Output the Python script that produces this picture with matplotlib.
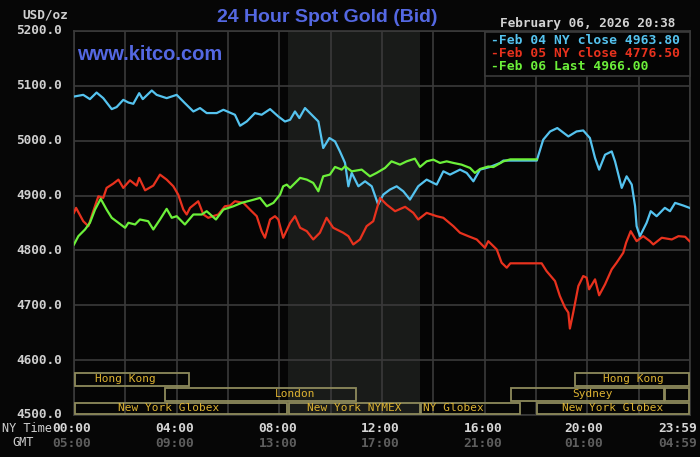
import matplotlib
matplotlib.use("Agg")
import matplotlib.pyplot as plt
from matplotlib.patches import Rectangle

# ---------------- data ----------------
blue_h = [0.0, 0.36, 0.62, 0.88, 1.14, 1.47, 1.66, 1.92, 2.12, 2.31, 2.54, 2.68, 3.03, 3.22, 3.61, 4.00,
          4.32, 4.65, 4.91, 5.17, 5.56, 5.82, 6.27, 6.47, 6.73, 7.05, 7.31, 7.64, 7.96, 8.22, 8.42, 8.61,
          8.78, 9.00, 9.26, 9.52, 9.71, 9.95, 10.17, 10.36, 10.56, 10.69, 10.82, 11.08, 11.34, 11.60,
          11.85, 12.05, 12.31, 12.57, 12.83, 13.09, 13.41, 13.74, 14.13, 14.39, 14.65, 15.04, 15.30,
          15.56, 15.82, 16.21, 16.60, 16.73, 17.00, 18.03, 18.28, 18.55, 18.83, 19.26, 19.58, 19.84,
          20.10, 20.30, 20.46, 20.69, 20.95, 21.08, 21.34, 21.53, 21.73, 21.86, 21.92, 22.05, 22.31,
          22.47, 22.70, 23.02, 23.22, 23.42, 23.74, 23.98]
blue_v = [5080.5, 5083.6, 5075.8, 5087.8, 5077.6, 5057.6, 5061.3, 5074.5, 5069.6, 5067.3, 5086.7, 5075.8,
          5091.5, 5083.6, 5077.6, 5083.6, 5068.5, 5053.3, 5059.5, 5050.4, 5050.4, 5056.4, 5047.3, 5027.3,
          5035.1, 5050.4, 5047.3, 5057.6, 5044.2, 5035.0, 5038.2, 5053.3, 5041.3, 5059.5, 5047.3, 5035.1,
          4986.7, 5004.9, 4998.7, 4980.5, 4959.5, 4916.9, 4941.3, 4916.9, 4926.0, 4916.9, 4883.6, 4901.8,
          4910.9, 4916.9, 4907.8, 4892.7, 4916.9, 4929.1, 4920.0, 4944.2, 4938.2, 4947.3, 4941.3, 4926.0,
          4947.3, 4952.2, 4959.5, 4963.8, 4963.8, 4963.8, 5001.8, 5016.9, 5023.1, 5007.8, 5016.9, 5018.7,
          5004.9, 4968.5, 4947.3, 4974.5, 4980.5, 4962.4, 4914.0, 4935.1, 4920.0, 4880.5, 4844.2, 4826.0,
          4850.4, 4871.5, 4862.4, 4877.6, 4871.5, 4886.7, 4881.8, 4877.6]

red_h = [0.0, 0.08, 0.36, 0.56, 0.75, 0.95, 1.14, 1.27, 1.53, 1.73, 1.92, 2.18, 2.44, 2.54, 2.77, 3.09,
         3.35, 3.61, 3.87, 4.06, 4.26, 4.39, 4.52, 4.84, 5.04, 5.23, 5.62, 5.88, 6.08, 6.27, 6.60, 6.92,
         7.12, 7.31, 7.44, 7.64, 7.83, 7.96, 8.15, 8.42, 8.61, 8.81, 9.07, 9.32, 9.58, 9.84, 10.10, 10.49,
         10.69, 10.88, 11.14, 11.40, 11.66, 11.92, 12.18, 12.51, 12.90, 13.22, 13.41, 13.74, 14.13, 14.39,
         14.78, 15.04, 15.36, 15.69, 16.01, 16.14, 16.47, 16.66, 16.86, 17.00, 18.03, 18.22, 18.41, 18.74,
         18.93, 19.13, 19.26, 19.32, 19.45, 19.65, 19.84, 19.97, 20.07, 20.30, 20.46, 20.69, 20.95, 21.14,
         21.40, 21.51, 21.69, 21.92, 22.18, 22.44, 22.57, 22.90, 23.29, 23.55, 23.81, 23.98]
red_v = [4868.5, 4877.6, 4853.3, 4844.2, 4871.5, 4898.7, 4895.8, 4914.0, 4921.8, 4929.1, 4914.0, 4927.8,
         4918.2, 4932.2, 4909.6, 4918.2, 4938.2, 4929.1, 4916.9, 4901.8, 4874.5, 4865.5, 4877.6, 4889.6,
         4865.5, 4859.5, 4865.5, 4880.5, 4881.8, 4889.6, 4886.7, 4871.5, 4862.4, 4835.1, 4823.1, 4856.4,
         4862.4, 4856.4, 4823.1, 4850.0, 4862.4, 4841.3, 4835.1, 4820.0, 4832.2, 4859.5, 4841.3, 4832.2,
         4826.0, 4810.9, 4820.0, 4844.2, 4853.3, 4895.8, 4883.6, 4871.5, 4879.5, 4868.5, 4856.4, 4868.5,
         4862.4, 4859.5, 4844.2, 4832.2, 4826.0, 4820.0, 4804.9, 4816.9, 4801.8, 4777.6, 4768.5, 4776.5,
         4776.5, 4776.5, 4762.4, 4744.2, 4716.9, 4695.8, 4686.7, 4657.6, 4686.7, 4735.1, 4753.3, 4750.4,
         4729.1, 4747.3, 4718.2, 4738.2, 4765.5, 4777.6, 4795.8, 4814.0, 4835.1, 4816.9, 4826.0, 4816.9,
         4810.9, 4823.1, 4820.0, 4826.0, 4824.9, 4816.9]

green_h = [0.0, 0.17, 0.43, 0.62, 0.82, 1.04, 1.27, 1.47, 1.73, 1.99, 2.12, 2.38, 2.57, 2.89, 3.09, 3.35,
           3.61, 3.81, 4.00, 4.32, 4.65, 4.98, 5.17, 5.53, 5.82, 6.21, 6.53, 6.92, 7.25, 7.51, 7.77, 8.03,
           8.15, 8.29, 8.42, 8.81, 9.07, 9.32, 9.52, 9.71, 9.97, 10.17, 10.43, 10.56, 10.82, 11.21, 11.53,
           11.79, 12.12, 12.37, 12.70, 12.96, 13.28, 13.48, 13.74, 14.00, 14.26, 14.52, 14.78, 15.10,
           15.43, 15.62, 15.82, 16.14, 16.34, 16.73, 17.00, 18.03]
green_v = [4810.9, 4826.0, 4838.2, 4850.4, 4874.5, 4894.0, 4874.5, 4859.5, 4850.4, 4841.3, 4850.4, 4847.3,
           4856.4, 4853.3, 4838.2, 4856.4, 4875.8, 4859.5, 4862.4, 4847.3, 4865.5, 4865.5, 4871.5, 4856.4,
           4874.5, 4880.5, 4886.7, 4891.5, 4895.8, 4880.5, 4886.7, 4901.8, 4916.9, 4920.0, 4914.0, 4932.2,
           4929.1, 4923.1, 4907.8, 4935.1, 4938.2, 4952.2, 4947.3, 4953.3, 4944.2, 4947.3, 4935.1, 4941.3,
           4950.4, 4962.4, 4956.4, 4962.4, 4967.3, 4952.2, 4962.4, 4965.5, 4959.5, 4962.4, 4959.5, 4956.4,
           4950.4, 4941.3, 4948.5, 4953.0, 4952.0, 4962.4, 4966.0, 4966.0]

y_ticks = [4500, 4600, 4700, 4800, 4900, 5000, 5100, 5200]
ny_labels = ["00:00", "04:00", "08:00", "12:00", "16:00", "20:00", "23:59"]
gmt_labels = ["05:00", "09:00", "13:00", "17:00", "21:00", "01:00", "04:59"]
label_hours = [-0.08, 3.93, 7.94, 11.93, 15.93, 19.86, 23.5]

legend_texts = ["Feb 04 NY close 4963.80", "Feb 05 NY close 4776.50", "Feb 06 Last 4966.00"]

# sessions: (row, start hour, end hour, label)
sessions = [
    (0, 0.0, 4.5, "Hong Kong"),
    (0, 19.5, 24.0, "Hong Kong"),
    (1, 3.5, 11.0, "London"),
    (1, 17.0, 23.0, "Sydney"),
    (1, 23.0, 24.0, ""),
    (2, 0.0, 8.33, "New York Globex"),
    (2, 8.33, 13.5, "New York NYMEX"),
    (2, 13.5, 17.4, "NY Globex"),
    (2, 18.0, 24.0, "New York Globex"),
]
session_text_x = {"Hong Kong": [2.0, 21.8], "London": [8.6], "Sydney": [20.2],
                  "New York Globex": [3.7, 21.0], "New York NYMEX": [10.9], "NY Globex": [14.8]}

# ---------------- style ----------------
BG = "#060606"
GRID = "#3a3a3a"
BLUE = "#55c3ef"
RED = "#e8321e"
GREEN = "#6cf03a"
BOX = "#8e8a5c"
BOXTXT = "#dcb232"
MONO = "DejaVu Sans Mono"

fig = plt.figure(figsize=(7.0, 4.57), dpi=100, facecolor=BG)
ax = fig.add_axes([74 / 700, 1 - 415 / 457, 616 / 700, 384 / 457])
ax.set_facecolor("#050505")
ax.set_xlim(0, 24)
ax.set_ylim(4500, 5200)

# NYMEX shading
ax.axvspan(8.33, 13.5, color="#191b19", zorder=0, lw=0)

# grid
for h in range(0, 25, 2):
    ax.axvline(h, color=GRID, lw=1.2, zorder=1)
for v in y_ticks:
    ax.axhline(v, color=GRID, lw=1.2, zorder=1)
for s in ax.spines.values():
    s.set_color(GRID)
    s.set_linewidth(1.2)
ax.set_xticks([])
ax.set_yticks([])

# lines
ax.plot(blue_h, blue_v, color=BLUE, lw=1.6, zorder=3)
ax.plot(red_h, red_v, color=RED, lw=1.6, zorder=3)
ax.plot(green_h, green_v, color=GREEN, lw=1.6, zorder=4)

# session boxes (axes-fraction in y)
row_y = [(0.0729, 0.112), (0.0339, 0.0729), (0.0, 0.0339)]
trans = ax.get_xaxis_transform()
for row, h0, h1, lab in sessions:
    y0, y1 = row_y[row]
    ax.add_patch(Rectangle((h0 + 0.03, y0 + 0.002), h1 - h0 - 0.06, y1 - y0 - 0.004,
                           transform=trans, fill=False, edgecolor=BOX, lw=1.3, zorder=5))
placed = {}
for row, h0, h1, lab in sessions:
    if not lab:
        continue
    i = placed.get(lab, 0)
    placed[lab] = i + 1
    y0, y1 = row_y[row]
    ax.text(session_text_x[lab][i], (y0 + y1) / 2, lab, transform=trans, ha="center", va="center",
            color=BOXTXT, fontsize=8, family=MONO, zorder=6)

# legend box
lg = Rectangle((485 / 700, 1 - 76 / 457), 205 / 700, 44 / 457, transform=fig.transFigure,
               facecolor="#040404", edgecolor=GRID, lw=1.2, zorder=10)
fig.patches.append(lg)
for i, (txt, col) in enumerate(zip(legend_texts, [BLUE, RED, GREEN])):
    fig.text(491 / 700, 1 - (40 + 13.5 * i) / 457, "-" + txt, color=col, fontsize=9.4,
             family=MONO, fontweight="bold", va="center", ha="left", zorder=11)

# y tick labels
for v in y_ticks:
    ax.text(-0.02, v, f"{v:.1f}", transform=ax.get_yaxis_transform(), ha="right", va="center",
            color="#cfcfcf", fontsize=9.2, family=MONO, fontweight="bold")
fig.text(68 / 700, 1 - 15 / 457, "USD/oz", ha="right", va="center", color="#cfcfcf",
         fontsize=9.2, family=MONO, fontweight="bold")

# x labels
for h, a, b in zip(label_hours, ny_labels, gmt_labels):
    ax.text(h, -0.035, a, transform=trans, ha="center", va="center", color="#d6d6d6",
            fontsize=9.3, family=MONO, fontweight="bold")
    ax.text(h, -0.074, b, transform=trans, ha="center", va="center", color="#5e5e5e",
            fontsize=9.3, family=MONO, fontweight="bold")
fig.text(27 / 700, 1 - 428 / 457, "NY Time", ha="center", va="center", color="#cfcfcf",
         fontsize=8.6, family=MONO)
fig.text(23 / 700, 1 - 443 / 457, "GMT", ha="center", va="center", color="#cfcfcf",
         fontsize=8.6, family=MONO)

# titles
fig.text(327 / 700, 1 - 18 / 457, "24 Hour Spot Gold (Bid)", ha="center", va="center",
         color="#5468e2", fontsize=14, family="Liberation Sans", fontweight="bold")
fig.text(588 / 700, 1 - 24 / 457, "February 06, 2026 20:38", ha="center", va="center",
         color="#d2d2d2", fontsize=9.2, family=MONO, fontweight="bold")
ax.text(77 / 700, 1 - 55 / 457, "www.kitco.com", transform=fig.transFigure, ha="left", va="center",
        color="#5468e2", fontsize=14.5, family="Liberation Sans", fontweight="bold", zorder=7)

fig.savefig("out.png", dpi=100, facecolor=BG)
